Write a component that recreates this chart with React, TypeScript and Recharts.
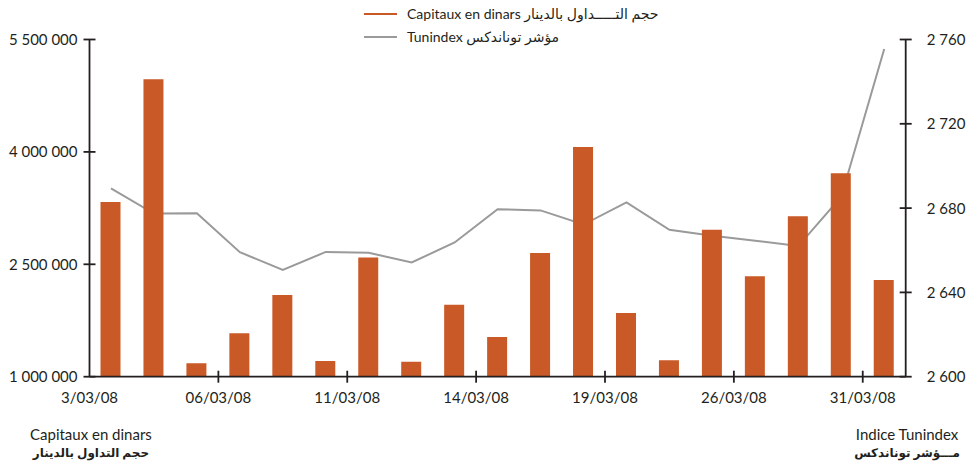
import React from 'react';
import { ComposedChart, Bar, Line, XAxis, YAxis, Legend } from 'recharts';

const dates = ['3/03/08', '04/03/08', '05/03/08', '06/03/08', '07/03/08', '10/03/08', '11/03/08', '12/03/08', '13/03/08', '14/03/08', '17/03/08', '18/03/08', '19/03/08', '24/03/08', '25/03/08', '26/03/08', '27/03/08', '28/03/08', '31/03/08'];
const capitaux = [3330000, 4970000, 1180000, 1580000, 2090000, 1210000, 2590000, 1200000, 1960000, 1530000, 2650000, 4065000, 1850000, 1220000, 2960000, 2340000, 3140000, 3715000, 2290000];
const tunindex = [2689.4, 2677.4, 2677.5, 2659.1, 2650.7, 2659.2, 2658.8, 2654.2, 2663.7, 2679.5, 2678.9, 2672.2, 2682.7, 2669.7, 2666.9, 2664.5, 2662.0, 2685.4, 2755.5];
const leftTicks = [1000000, 2500000, 4000000, 5500000];
const rightTicks = [2600, 2640, 2680, 2720, 2760];
const shownDates = dates.filter((_, i) => i % 3 === 0);

const data = dates.map((d, i) => ({ date: d, capitaux: capitaux[i], tunindex: tunindex[i] }));

const W = 977;
const H = 464;
const LEFT_W = 89.5;
const RIGHT_W = 71.3;
const HALF_BAND = (W - LEFT_W - RIGHT_W) / dates.length / 2;
const FONT = "Lato, 'DejaVu Sans', sans-serif";
const ORANGE = '#c95a27';
const GREY = '#9a9a9a';
const INK = '#231f20';

const spaced = (v: number) => String(v).replace(/\B(?=(\d{3})+(?!\d))/g, ' ');

const LeftTick = (props: any) => {
    const { x, y, payload } = props;
    return (
        <g>
            <line x1={x + 6} x2={x + 18} y1={y} y2={y} stroke={INK} strokeWidth={1.8} />
            <text x={x} y={y} dy="0.36em" textAnchor="end" fontSize={15} fontFamily={FONT} fill={INK}>
                {spaced(payload.value)}
            </text>
        </g>
    );
};

const RightTick = (props: any) => {
    const { x, y, payload } = props;
    return (
        <g>
            <line x1={x - 27} x2={x - 15} y1={y} y2={y} stroke={INK} strokeWidth={1.8} />
            <text x={x} y={y} dy="0.36em" textAnchor="start" fontSize={15} fontFamily={FONT} fill={INK}>
                {spaced(payload.value)}
            </text>
        </g>
    );
};

const DateTick = (props: any) => {
    const { x, y, payload } = props;
    const tx = x - HALF_BAND;
    return (
        <g>
            {payload.index !== 0 && <line x1={tx} x2={tx} y1={y - 6} y2={y + 6} stroke={INK} strokeWidth={1.8} />}
            <text x={tx} y={y + 21} dy="0.36em" textAnchor="middle" fontSize={15} fontFamily={FONT} fill={INK}>
                {payload.value}
            </text>
        </g>
    );
};

const LegendBox = () => (
    <div style={{ fontFamily: FONT, fontSize: 14, color: INK, lineHeight: '23px', textAlign: 'left' }}>
        <div style={{ display: 'flex', alignItems: 'center' }}>
            <span style={{ display: 'inline-block', width: 33, height: 2, background: ORANGE, marginRight: 10 }} />
            <span>Capitaux en dinars حجم التـــــداول بالدينار</span>
        </div>
        <div style={{ display: 'flex', alignItems: 'center' }}>
            <span style={{ display: 'inline-block', width: 33, height: 2, background: GREY, marginRight: 10 }} />
            <span>Tunindex مؤشر توناندكس</span>
        </div>
    </div>
);

export default function App() {
    return (
        <div style={{ position: 'absolute', left: 0, top: 0, width: W, height: H, background: '#fff' }}>
            <ComposedChart width={W} height={H} data={data} margin={{ top: 39.5, right: 0, bottom: 57.3, left: 0 }}>
                <XAxis
                    dataKey="date"
                    xAxisId="x"
                    ticks={shownDates}
                    interval={0}
                    tick={<DateTick />}
                    tickSize={0}
                    tickMargin={0}
                    height={30}
                    axisLine={{ stroke: INK, strokeWidth: 1.8 }}
                    tickLine={false}
                />
                <YAxis
                    yAxisId="cap"
                    orientation="left"
                    width={LEFT_W}
                    domain={[1000000, 5500000]}
                    ticks={leftTicks}
                    interval={0}
                    tick={<LeftTick />}
                    tickSize={0}
                    tickMargin={12}
                    axisLine={{ stroke: INK, strokeWidth: 1.8 }}
                    tickLine={false}
                    allowDataOverflow
                />
                <YAxis
                    yAxisId="idx"
                    orientation="right"
                    width={RIGHT_W}
                    domain={[2600, 2760]}
                    ticks={rightTicks}
                    interval={0}
                    tick={<RightTick />}
                    tickSize={0}
                    tickMargin={21}
                    axisLine={{ stroke: INK, strokeWidth: 1.8 }}
                    tickLine={false}
                    allowDataOverflow
                />
                <Legend
                    verticalAlign="middle"
                    align="center"
                    layout="horizontal"
                    content={<LegendBox />}
                    wrapperStyle={{ top: 2, left: 364, width: 'auto' }}
                />
                {/* index line sits behind the bars, as in the source */}
                <Line xAxisId="x" yAxisId="idx" dataKey="tunindex" stroke={GREY} strokeWidth={2} dot={false} type="linear" zIndex={250} isAnimationActive={false} />
                <Bar xAxisId="x" yAxisId="cap" dataKey="capitaux" fill={ORANGE} barSize={20} zIndex={300} isAnimationActive={false} />
            </ComposedChart>
            <div style={{ position: 'absolute', left: 30, top: 424, fontFamily: FONT, color: INK, textAlign: 'center' }}>
                <div style={{ fontSize: 15, lineHeight: '20px' }}>Capitaux en dinars</div>
                <div style={{ fontSize: 12, lineHeight: '18px', fontWeight: 'bold' }}>حجم التداول بالدينار</div>
            </div>
            <div style={{ position: 'absolute', right: 17, top: 424, fontFamily: FONT, color: INK, textAlign: 'center' }}>
                <div style={{ fontSize: 15, lineHeight: '20px' }}>Indice Tunindex</div>
                <div style={{ fontSize: 12, lineHeight: '18px', fontWeight: 'bold' }}>مـــؤشر توناندكس</div>
            </div>
        </div>
    );
}
